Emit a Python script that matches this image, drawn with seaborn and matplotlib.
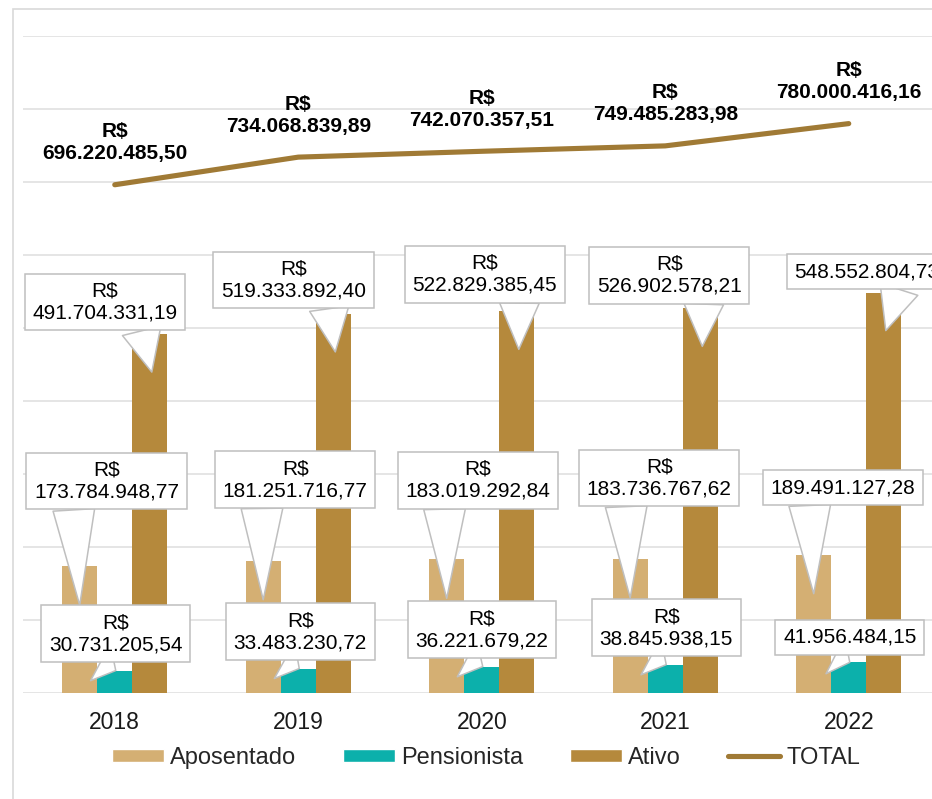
import numpy as np
import pandas as pd
import matplotlib
matplotlib.use('Agg')
import matplotlib.pyplot as plt
import matplotlib.transforms as mtransforms
from matplotlib.patches import Patch, Rectangle
from matplotlib.lines import Line2D
import seaborn as sns

# data (R$)
years = ['2018', '2019', '2020', '2021', '2022']
series_names = ['Aposentado', 'Pensionista', 'Ativo']
aposentado = [173784948.77, 181251716.77, 183019292.84, 183736767.62, 189491127.28]
pensionista = [30731205.54, 33483230.72, 36221679.22, 38845938.15, 41956484.15]
ativo = [491704331.19, 519333892.40, 522829385.45, 526902578.21, 548552804.73]
total = [696220485.50, 734068839.89, 742070357.51, 749485283.98, 780000416.16]

colors = {'Aposentado': '#D4AF73', 'Pensionista': '#0CB0AB', 'Ativo': '#B5893C'}
line_color = '#A07A35'
edge_grey = '#BFBFBF'

# callout layout in pixels: tip shift from bar top, text offset from tip
layout = {
    'Aposentado': dict(tip=(0, -39), text=[(27, 124), (32, 120), (31, 118), (29, 120), (29, 106)],
                       relx=0.27, tail=2.0),
    'Pensionista': dict(tip=(1, 0), text=[(0, 37), (1, 37), (-1, 37), (0, 37), (0, 25)],
                        relx=0.27, tail=2.0),
    'Ativo': dict(tip=(2, -38), text=[(-47, 70), (-42, 72), (-34, 75), (-33, 71), (-19, 59)],
                  relx=0.74, tail=1.9),
}
one_line = [False, False, False, False, True]  # 2022 bar labels fit on one line


def brl(v):
    s = f'{v:,.2f}'
    return s.replace(',', 'X').replace('.', ',').replace('X', '.')


sns.set_theme(style='white')
plt.rcParams['font.family'] = ['Liberation Sans', 'DejaVu Sans']

values = {'Aposentado': aposentado, 'Pensionista': pensionista, 'Ativo': ativo}
df = pd.DataFrame({
    'ano': years * 3,
    'serie': np.repeat(series_names, len(years)),
    'valor': aposentado + pensionista + ativo,
})

fig = plt.figure(figsize=(9.32, 7.99), dpi=100)
ax = fig.add_axes([23 / 932, 106 / 799, 917.5 / 932, 657 / 799])

sns.barplot(data=df, x='ano', y='valor', hue='serie', hue_order=series_names, order=years,
            palette=colors, width=0.573, saturation=1, linewidth=0, errorbar=None,
            legend=False, ax=ax)
sns.lineplot(x=np.arange(len(years)), y=total, color=line_color, linewidth=3.7,
             solid_capstyle='round', legend=False, ax=ax)

ax.set_xlim(-0.5, len(years) - 0.5)
ax.set_ylim(0, 900e6)
ax.set_yticks(np.arange(0, 900e6 + 1, 100e6))
ax.set_yticklabels([])
ax.tick_params(axis='y', left=False, length=0)
ax.tick_params(axis='x', labelsize=16.5, pad=13, length=0, labelcolor='#1a1a1a')
ax.grid(axis='y', color='#E3E3E3', linewidth=1.3)
ax.set_axisbelow(True)
ax.set_xlabel('')
ax.set_ylabel('')
sns.despine(ax=ax, left=True, bottom=True)

# callout labels on bars
for name, bars in zip(series_names, ax.containers):
    lay = layout[name]
    tip_tr = mtransforms.offset_copy(ax.transData, fig=fig, x=lay['tip'][0], y=lay['tip'][1], units='dots')
    for i, bar in enumerate(bars):
        v = values[name][i]
        label = brl(v) if one_line[i] else 'R$\n' + brl(v)
        ax.annotate(label, xy=(bar.get_x() + bar.get_width() / 2, bar.get_height()), xycoords=tip_tr,
                    xytext=lay['text'][i], textcoords='offset pixels',
                    ha='center', va='center', fontsize=15, color='black', zorder=5,
                    bbox=dict(boxstyle='square,pad=0.37', fc='white', ec=edge_grey, lw=1.1),
                    arrowprops=dict(arrowstyle=f"wedge,tail_width={lay['tail']}", fc='white',
                                    ec=edge_grey, lw=1.1, relpos=(lay['relx'], 0),
                                    shrinkA=0, shrinkB=0))

# total labels
for i, v in enumerate(total):
    ax.annotate('R$\n' + brl(v), xy=(i, v), xytext=(0, 42), textcoords='offset pixels',
                ha='center', va='center', fontsize=15, fontweight='bold', color='black', zorder=5)

handles = [Patch(facecolor=colors[n]) for n in series_names]
handles.append(Line2D([], [], color=line_color, linewidth=3.7, solid_capstyle='round'))
fig.legend(handles, series_names + ['TOTAL'], loc='center', bbox_to_anchor=(486 / 932, 41 / 799),
           ncol=4, frameon=False, fontsize=17, handlelength=2.2, handleheight=0.5,
           handletextpad=0.25, columnspacing=2.0)

# chart area border (cut off at the right and bottom)
fig.add_artist(Rectangle((12.5 / 932, -0.05), 1.1, 1 - 8.5 / 799 + 0.05, transform=fig.transFigure,
                         fill=False, ec='#D9D9D9', lw=1.2))

fig.savefig('out.png', dpi=100)
